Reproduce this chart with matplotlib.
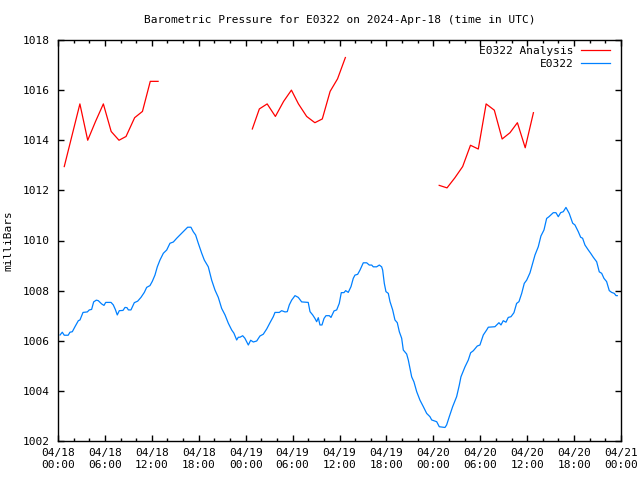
#Barometric pressure chart, gnuplot look
import numpy as np
import pandas as pd
import matplotlib
matplotlib.use('Agg')
import matplotlib.pyplot as plt
import matplotlib.dates as mdates
from matplotlib.legend import Legend

#Datos: horas desde 2024-04-18 00:00 UTC
start = pd.Timestamp('2024-04-18 00:00')

analysis_hours = [0.8, 1.8, 2.8, 3.8, 4.8, 5.8, 6.8, 7.8, 8.7, 9.8, 10.8, 11.8, 12.8, np.nan,
                  24.85, 25.75, 26.75, 27.8, 28.85, 29.85, 30.75, 31.8, 32.85, 33.8, 34.8, 35.75, 36.75, np.nan,
                  48.75, 49.75, 50.75, 51.75, 52.75, 53.75, 54.75, 55.8, 56.8, 57.8, 58.75, 59.75, 60.8]
analysis_mb = [1012.95, 1014.2, 1015.45, 1014.0, 1014.75, 1015.45, 1014.35, 1014.0, 1014.15, 1014.9, 1015.15, 1016.35, 1016.35, np.nan,
               1014.45, 1015.25, 1015.45, 1014.95, 1015.55, 1016.0, 1015.45, 1014.95, 1014.7, 1014.85, 1015.95, 1016.45, 1017.3, np.nan,
               1012.2, 1012.1, 1012.5, 1012.95, 1013.8, 1013.65, 1015.45, 1015.2, 1014.05, 1014.3, 1014.7, 1013.7, 1015.1]

obs_hours = [0.26, 0.55, 0.8, 1.3, 1.53, 1.83, 2.17, 2.6, 2.81, 3.2, 3.75, 4.0, 4.3, 4.56, 4.9, 5.15, 5.58, 5.88,
             6.1, 6.78, 7.07, 7.33, 7.58, 7.84, 8.31, 8.57, 8.82, 9.0, 9.33, 9.76, 10.19, 10.61, 11.04, 11.34,
             11.76, 12.06, 12.4, 12.7, 13.04, 13.47, 13.9, 14.32, 14.75, 15.18, 15.82, 16.24, 16.58, 17.0,
             17.3, 17.6, 17.94, 18.38, 18.71, 19.22, 19.65, 20.08, 20.5, 20.93, 21.36, 21.78, 22.21, 22.5,
             22.85, 23.06, 23.27, 23.62, 23.9, 24.34, 24.64, 24.98, 25.41, 25.83, 26.25, 26.69, 27.11, 27.53,
             27.75, 28.3, 28.6, 29.03, 29.32, 29.58, 29.88, 30.31, 30.73, 31.16, 32.0, 32.23, 32.57, 32.86,
             33.08, 33.29, 33.5, 33.76, 34.02, 34.27, 34.7, 34.91, 35.3, 35.64, 35.97, 36.23, 36.57, 36.79,
             37.12, 37.47, 37.76, 37.98, 38.32, 38.62, 39.04, 39.48, 39.81, 40.12, 40.32, 40.75, 41.09, 41.39,
             41.52, 41.73, 41.94, 42.24, 42.46, 42.8, 43.09, 43.39, 43.65, 43.95, 44.16, 44.59, 44.8, 45.23,
             45.52, 45.87, 46.29, 46.72, 47.15, 47.57, 47.79, 48.43, 48.76, 49.49, 49.7, 50.04, 50.47, 50.98,
             51.32, 51.53, 52.05, 52.47, 52.77, 53.11, 53.62, 53.96, 54.39, 54.82, 55.03, 55.88, 56.1, 56.39,
             56.65, 56.94, 57.29, 57.58, 57.93, 58.31, 58.65, 58.95, 59.3, 59.63, 59.94, 60.36, 60.7, 61.0,
             61.42, 61.76, 62.15, 62.49, 62.79, 63.34, 63.68, 63.98, 64.28, 64.62, 64.96, 65.38, 65.82, 66.11,
             66.54, 66.84, 67.09, 67.39, 67.82, 68.12, 68.46, 68.89, 69.22, 69.53, 69.82, 70.16, 70.5, 70.8,
             71.14, 71.36, 71.52]
obs_mb = [1006.23, 1006.34, 1006.22, 1006.22, 1006.34, 1006.36, 1006.56, 1006.8, 1006.83, 1007.13, 1007.15, 1007.23,
          1007.25, 1007.55, 1007.62, 1007.6, 1007.47, 1007.41, 1007.53, 1007.53, 1007.43, 1007.25, 1007.03, 1007.2,
          1007.21, 1007.33, 1007.32, 1007.23, 1007.23, 1007.52, 1007.58, 1007.73, 1007.93, 1008.13, 1008.2, 1008.37,
          1008.62, 1008.95, 1009.22, 1009.49, 1009.62, 1009.89, 1009.94, 1010.09, 1010.29, 1010.42, 1010.53, 1010.53,
          1010.35, 1010.22, 1009.89, 1009.49, 1009.22, 1008.95, 1008.42, 1008.02, 1007.73, 1007.29, 1007.03, 1006.7,
          1006.43, 1006.3, 1006.03, 1006.14, 1006.14, 1006.2, 1006.1, 1005.83, 1006.02, 1005.95, 1005.99, 1006.19,
          1006.26, 1006.47, 1006.72, 1006.96, 1007.13, 1007.13, 1007.2, 1007.15, 1007.16, 1007.43, 1007.62, 1007.8,
          1007.73, 1007.55, 1007.53, 1007.16, 1007.03, 1006.89, 1006.76, 1006.92, 1006.63, 1006.63, 1006.89, 1007.0,
          1007.0, 1006.93, 1007.19, 1007.23, 1007.49, 1007.92, 1007.92, 1008.0, 1007.93, 1008.16, 1008.49, 1008.62,
          1008.65, 1008.82, 1009.11, 1009.11, 1009.02, 1009.02, 1008.95, 1008.95, 1009.02, 1008.95, 1008.82, 1008.29,
          1007.96, 1007.89, 1007.56, 1007.23, 1006.83, 1006.72, 1006.36, 1006.1, 1005.63, 1005.47, 1005.23, 1004.56,
          1004.36, 1003.97, 1003.63, 1003.37, 1003.1, 1002.97, 1002.84, 1002.77, 1002.57, 1002.54, 1002.64, 1002.97,
          1003.37, 1003.77, 1004.23, 1004.56, 1004.96, 1005.23, 1005.52, 1005.6, 1005.79, 1005.83, 1006.23, 1006.43,
          1006.54, 1006.56, 1006.63, 1006.72, 1006.63, 1006.8, 1006.74, 1006.93, 1006.96, 1007.12, 1007.49, 1007.56,
          1007.89, 1008.29, 1008.42, 1008.71, 1009.09, 1009.42, 1009.75, 1010.18, 1010.42, 1010.88, 1010.95, 1011.11,
          1011.11, 1010.95, 1011.11, 1011.15, 1011.32, 1011.08, 1010.69, 1010.62, 1010.35, 1010.13, 1010.09, 1009.82,
          1009.62, 1009.49, 1009.33, 1009.15, 1008.75, 1008.69, 1008.49, 1008.36, 1008.0, 1007.93, 1007.89, 1007.8,
          1007.8]

y_ticks = [1002, 1004, 1006, 1008, 1010, 1012, 1014, 1016, 1018]

#Convertir horas a fechas
t_analysis = [start + pd.Timedelta(hours=h) if not np.isnan(h) else pd.NaT for h in analysis_hours]
t_obs = [start + pd.Timedelta(hours=h) for h in obs_hours]
t_analysis = pd.to_datetime(t_analysis)
t_obs = pd.to_datetime(t_obs)

plt.rcParams['font.family'] = 'DejaVu Sans Mono'
plt.rcParams['font.size'] = 8

fig = plt.figure(figsize=(6.4, 4.8), dpi=100)
ax = fig.add_axes([58/640, 1 - 441/480, (621 - 58)/640, (441 - 40)/480])

l1, = ax.plot(t_analysis, analysis_mb, color='#ff0000', lw=0.9, label='E0322 Analysis')
l2, = ax.plot(t_obs, obs_mb, color='#0080ff', lw=0.9, label='E0322')

ax.set_xlim(start, start + pd.Timedelta(hours=72))
ax.set_ylim(1002, 1018)
ax.set_yticks(y_ticks)
ax.yaxis.set_major_formatter(plt.FormatStrFormatter('%d'))

ax.xaxis.set_major_locator(mdates.HourLocator(byhour=range(0, 24, 6)))
ax.xaxis.set_minor_locator(mdates.HourLocator(byhour=range(0, 24, 2)))
ax.xaxis.set_major_formatter(mdates.DateFormatter('%m/%d\n%H:%M'))

ax.tick_params(which='both', direction='in', top=True, right=True, width=1)
ax.tick_params(which='major', length=4.5, pad=6)
ax.tick_params(which='minor', length=2.5)
ax.tick_params(axis='x', pad=5)
for sp in ax.spines.values():
    sp.set_linewidth(1)

ax.set_title('Barometric Pressure for E0322 on 2024-Apr-18 (time in UTC)', fontsize=8, pad=12)
ax.set_ylabel('milliBars', labelpad=7)

#Leyenda: una fila por serie, texto alineado a la derecha junto a la linea
x_end = (610 - 58) / 563
rows = [(l1, 1 - 11/401), (l2, 1 - 24/401)]
for line, y in rows:
    leg = Legend(ax, [line], [line.get_label()], loc='center right', bbox_to_anchor=(x_end, y),
                 frameon=False, markerfirst=False, handlelength=2.6, handletextpad=0.7,
                 borderaxespad=0, borderpad=0)
    ax.add_artist(leg)

fig.savefig('out.png', dpi=100)
